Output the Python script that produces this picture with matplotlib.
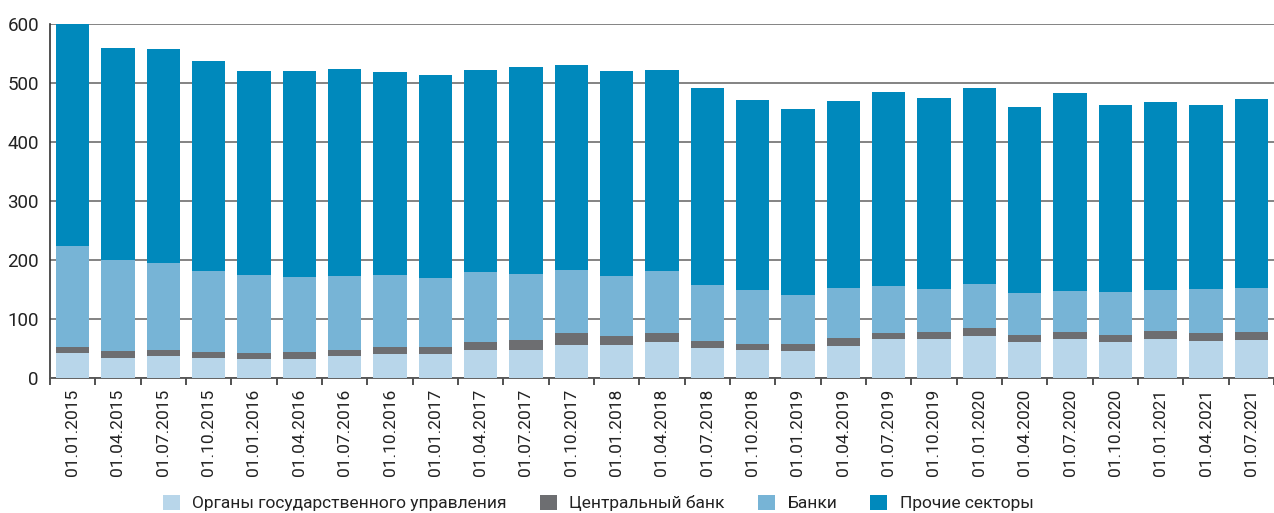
import matplotlib
matplotlib.use("Agg")
import matplotlib.pyplot as plt
import numpy as np
from matplotlib.patches import Patch

dates = ["01.01.2015", "01.04.2015", "01.07.2015", "01.10.2015",
         "01.01.2016", "01.04.2016", "01.07.2016", "01.10.2016",
         "01.01.2017", "01.04.2017", "01.07.2017", "01.10.2017",
         "01.01.2018", "01.04.2018", "01.07.2018", "01.10.2018",
         "01.01.2019", "01.04.2019", "01.07.2019", "01.10.2019",
         "01.01.2020", "01.04.2020", "01.07.2020", "01.10.2020",
         "01.01.2021", "01.04.2021", "01.07.2021"]

# cumulative levels
gov_top = [41.7, 33.2, 36.6, 33.2, 31.5, 31.5, 36.6, 40.0, 40.0, 46.8, 46.8, 55.2,
           55.2, 60.3, 50.1, 46.8, 45.1, 53.5, 65.4, 65.4, 70.4, 60.3, 65.4, 60.3,
           65.4, 62.0, 63.7]
cb_top = [51.8, 45.0, 46.8, 43.4, 41.7, 43.4, 46.8, 51.8, 51.8, 60.3, 63.7, 75.5,
          70.4, 75.5, 62.0, 56.9, 56.9, 67.0, 75.5, 77.2, 83.9, 72.1, 77.2, 72.1,
          78.9, 75.5, 77.2]
banks_top = [224.0, 199.4, 195.5, 182.0, 175.2, 171.8, 173.5, 175.2, 170.1, 180.3,
             176.9, 183.7, 173.5, 182.0, 158.3, 149.9, 141.4, 153.2, 156.6, 151.5,
             160.0, 144.8, 148.2, 146.5, 149.9, 151.5, 153.2]
total = [600.0, 558.9, 557.0, 537.0, 520.0, 520.0, 523.4, 518.3, 513.2, 521.7,
         526.8, 530.1, 520.0, 521.7, 491.3, 471.0, 455.8, 469.3, 484.5, 474.4,
         491.3, 459.2, 482.8, 462.5, 467.6, 462.5, 472.7]

gov = np.array(gov_top)
cb = np.array(cb_top) - np.array(gov_top)
banks = np.array(banks_top) - np.array(cb_top)
other = np.array(total) - np.array(banks_top)

series_names = ["Органы государственного управления", "Центральный банк", "Банки", "Прочие секторы"]
colors = ["#b8d6ea", "#6d6e71", "#77b4d6", "#0089bc"]

plt.rcParams['font.family'] = ['Roboto', 'DejaVu Sans']

fig = plt.figure(figsize=(12.74, 5.13), dpi=100)
ax = fig.add_axes([50/1274, 1 - 378/513, 1 - 50/1274, 354/513])

x = np.arange(len(dates))
w = 0.73
bottom = np.zeros(len(dates))
for vals, c, name in zip([gov, cb, banks, other], colors, series_names):
    ax.bar(x, vals, w, bottom=bottom, color=c, label=name, zorder=3, linewidth=0)
    bottom = bottom + vals

ax.set_xlim(-0.5, len(dates) - 0.5)
ax.set_ylim(0, 600)
ax.set_yticks(np.arange(0, 601, 100))
ax.yaxis.grid(True, color="#7a7a7a", linewidth=1.3, zorder=0)
ax.set_axisbelow(True)
for s in ["top", "right"]:
    ax.spines[s].set_visible(False)
ax.spines["left"].set_color("#333333")
ax.spines["left"].set_linewidth(1.2)
ax.spines["bottom"].set_color("#555555")
ax.spines["bottom"].set_linewidth(1.3)
ax.tick_params(axis="y", length=0, pad=8, labelsize=13.5, labelcolor="#222222")

ax.set_xticks(x)
ax.set_xticklabels(dates, rotation=90, fontsize=12.5, color="#222222")
ax.tick_params(axis="x", which="major", length=0, pad=8)
ax.set_xticks(np.arange(-0.5, len(dates), 1.0), minor=True)
ax.tick_params(axis="x", which="minor", length=5, width=1.2, color="#333333")

handles = [Patch(facecolor=c, edgecolor="none") for c in colors]
fig.legend(handles, series_names, loc="center", bbox_to_anchor=(598/1274, 1 - 503/513),
           ncol=4, frameon=False, fontsize=12.5, handlelength=1.0, handleheight=1.0,
           columnspacing=1.9, handletextpad=0.7, labelcolor="#222222")

fig.savefig("out.png", dpi=100)
